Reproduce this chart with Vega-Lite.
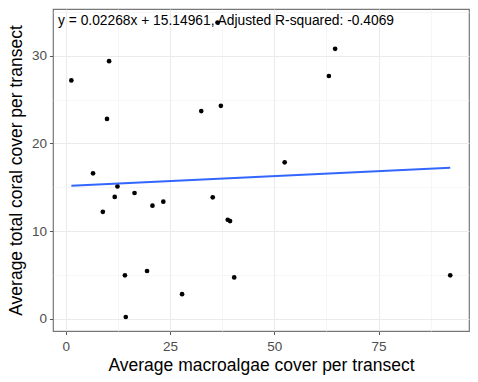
{
  "$schema": "https://vega.github.io/schema/vega-lite/v6.json",
  "width": 416,
  "height": 322,
  "autosize": {"type": "none"},
  "padding": {"left": 53, "top": 9, "right": 9, "bottom": 51},
  "background": "white",
  "config": {
    "font": "Liberation Sans",
    "view": {"stroke": "#777777", "strokeWidth": 1.2},
    "axis": {
      "labelFont": "Liberation Sans",
      "titleFont": "Liberation Sans",
      "labelFontSize": 13.5,
      "labelColor": "#4d4d4d",
      "titleFontSize": 17.5,
      "titleFontWeight": "normal",
      "titleColor": "black",
      "domain": false,
      "tickColor": "#555555",
      "tickSize": 3.5
    }
  },
  "datasets": {
    "pts": [
      {"macro": 1.35, "coral": 27.2},
      {"macro": 10.4, "coral": 29.4},
      {"macro": 9.9, "coral": 22.8},
      {"macro": 32.5, "coral": 23.7},
      {"macro": 37.2, "coral": 24.3},
      {"macro": 36.4, "coral": 33.8},
      {"macro": 63.1, "coral": 27.7},
      {"macro": 64.6, "coral": 30.8},
      {"macro": 6.55, "coral": 16.6},
      {"macro": 8.9, "coral": 12.2},
      {"macro": 11.75, "coral": 13.9},
      {"macro": 12.4, "coral": 15.1},
      {"macro": 16.5, "coral": 14.35},
      {"macro": 20.8, "coral": 12.9},
      {"macro": 23.4, "coral": 13.36},
      {"macro": 35.25, "coral": 13.86},
      {"macro": 38.85, "coral": 11.3},
      {"macro": 39.4, "coral": 11.15},
      {"macro": 52.5, "coral": 17.85},
      {"macro": 14.2, "coral": 4.95},
      {"macro": 19.5, "coral": 5.45},
      {"macro": 27.9, "coral": 2.8},
      {"macro": 40.4, "coral": 4.72},
      {"macro": 92.2, "coral": 4.95},
      {"macro": 14.4, "coral": 0.2}
    ],
    "note": [
      {"macro": -1.85, "coral": 34.0, "label": "y = 0.02268x + 15.14961, Adjusted R-squared: -0.4069"}
    ]
  },
  "layer": [
    {
      "data": {"name": "pts"},
      "mark": {"type": "circle", "size": 22, "color": "black", "opacity": 1},
      "encoding": {
        "x": {
          "field": "macro",
          "type": "quantitative",
          "scale": {"domain": [-3.05, 96.7], "nice": false, "zero": false},
          "axis": {
            "title": "Average macroalgae cover per transect",
            "values": [0, 12.5, 25, 37.5, 50, 62.5, 75, 87.5],
            "labelExpr": "datum.value % 25 === 0 ? datum.label : ''",
            "tickSize": {"condition": {"test": "datum.value % 25 === 0", "value": 3.5}, "value": 0},
            "gridColor": {"condition": {"test": "datum.value % 25 === 0", "value": "#ebebeb"}, "value": "#f2f2f2"},
            "gridWidth": {"condition": {"test": "datum.value % 25 === 0", "value": 1.1}, "value": 0.7},
            "labelPadding": 5,
            "titlePadding": 3
          }
        },
        "y": {
          "field": "coral",
          "type": "quantitative",
          "scale": {"domain": [-1.4, 35.35], "nice": false, "zero": false},
          "axis": {
            "title": "Average total coral cover per transect",
            "values": [0, 5, 10, 15, 20, 25, 30, 35],
            "labelExpr": "datum.value % 10 === 0 ? datum.label : ''",
            "tickSize": {"condition": {"test": "datum.value % 10 === 0", "value": 3.5}, "value": 0},
            "gridColor": {"condition": {"test": "datum.value % 10 === 0", "value": "#ebebeb"}, "value": "#f2f2f2"},
            "gridWidth": {"condition": {"test": "datum.value % 10 === 0", "value": 1.1}, "value": 0.7},
            "labelPadding": 3,
            "titlePadding": 6
          }
        }
      }
    },
    {
      "data": {"name": "pts"},
      "transform": [{"regression": "coral", "on": "macro"}],
      "mark": {"type": "line", "color": "#3366FF", "strokeWidth": 2},
      "encoding": {
        "x": {"field": "macro", "type": "quantitative"},
        "y": {"field": "coral", "type": "quantitative"}
      }
    },
    {
      "data": {"name": "note"},
      "mark": {"type": "text", "align": "left", "baseline": "middle", "fontSize": 13.8, "color": "black", "font": "Liberation Sans"},
      "encoding": {
        "x": {"field": "macro", "type": "quantitative"},
        "y": {"field": "coral", "type": "quantitative"},
        "text": {"field": "label", "type": "nominal"}
      }
    }
  ]
}
